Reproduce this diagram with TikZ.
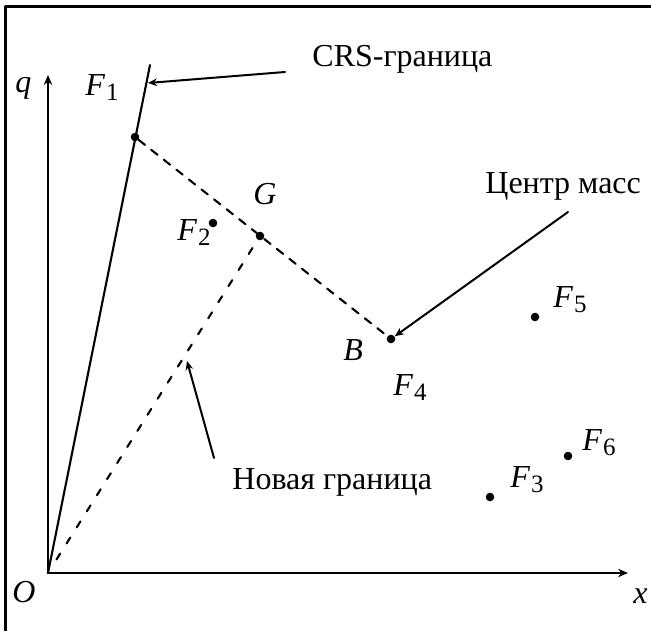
\documentclass[tikz,border=0pt]{standalone}
\usepackage{fontspec}
\setmainfont{Liberation Serif}
\usetikzlibrary{arrows.meta,calc}

% italic F with an upright index
\newcommand{\Fidx}[1]{\textit{F}\kern0.5pt\raisebox{-2.5pt}{\fontsize{12.5}{12.5}\selectfont #1}}

\begin{document}
\begin{tikzpicture}[x=0.5pt,y=-0.5pt,>={Stealth[length=5pt,width=4.2pt]},
    line cap=round,line join=round,
    every node/.style={font=\fontsize{16}{19}\selectfont,inner sep=0pt},
    axis/.style={->,line width=1.1pt},
    bnd/.style={line width=1.05pt},
    callout/.style={->,line width=1pt,>={Stealth[length=4.5pt,width=3.8pt]}},
    pt/.style={circle,fill,inner sep=0pt,minimum size=4.3pt},
    lbl/.style={anchor=base west}]
    \useasboundingbox (0,0) rectangle (651,631);

    % Frame: only its top and left edges fall inside the picture.
    \draw[line width=1.5pt,line cap=butt] (651,7) -- (5,7) -- (5,631);

    % Axes.
    \coordinate (O) at (48,573);
    \coordinate (qend) at (48,75);
    \coordinate (xend) at (628,573);
    \draw[axis] (O) -- (qend);
    \draw[axis] (O) -- (xend);
    \node[lbl] (qlab) at (15,92) {\textit{q}};
    \node[lbl] (xlab) at (633,603) {\textit{x}};
    \node[lbl] (Olab) at (12,602) {\textit{O}};

    % Points of the set.
    \node[pt] (F1) at (135,137) {};
    \node[pt] (F2) at (213,223) {};
    \node[pt] (G)  at (260,236) {};
    \node[pt] (B)  at (391,339) {};
    \node[pt] (F5) at (535,317) {};
    \node[pt] (F6) at (568,456) {};
    \node[pt] (F3) at (490,497) {};

    \node[lbl] (F1lab) at (85,95)   {\Fidx{1}};
    \node[lbl] (F2lab) at (177,240) {\Fidx{2}};
    \node[lbl] (Glab)  at (253,204) {\textit{G}};
    \node[lbl] (Blab)  at (343,360) {\textit{B}};
    \node[lbl] (F4lab) at (393,395) {\Fidx{4}};
    \node[lbl] (F5lab) at (553,307) {\Fidx{5}};
    \node[lbl] (F6lab) at (582,450) {\Fidx{6}};
    \node[lbl] (F3lab) at (510,487) {\Fidx{3}};

    % CRS boundary and the two dashed segments.
    \coordinate (crstop) at (150,65);
    \draw[bnd] (O) -- (crstop);
    \draw[bnd,dash pattern=on 4pt off 4pt] (F1) -- (B);
    \draw[bnd,dash pattern=on 3.5pt off 6pt] ($(O)!0.04!(G)$) -- (G);

    % Callouts.
    \node[lbl] (crs) at (312,67) {CRS-граница};
    \coordinate (crstail) at (285,72);
    \coordinate (crstip) at (148,83);
    \draw[callout] (crstail) -- (crstip);

    \node[lbl] (cm) at (485,193) {Центр масс};
    \coordinate (cmtail) at (568,212);
    \draw[callout] (cmtail) -- (B);

    \node[lbl] (nb) at (232,489) {Новая граница};
    \coordinate (nbtail) at (214,458);
    \coordinate (nbtip) at (187,361);
    \draw[callout] (nbtail) -- (nbtip);
\end{tikzpicture}
\end{document}
